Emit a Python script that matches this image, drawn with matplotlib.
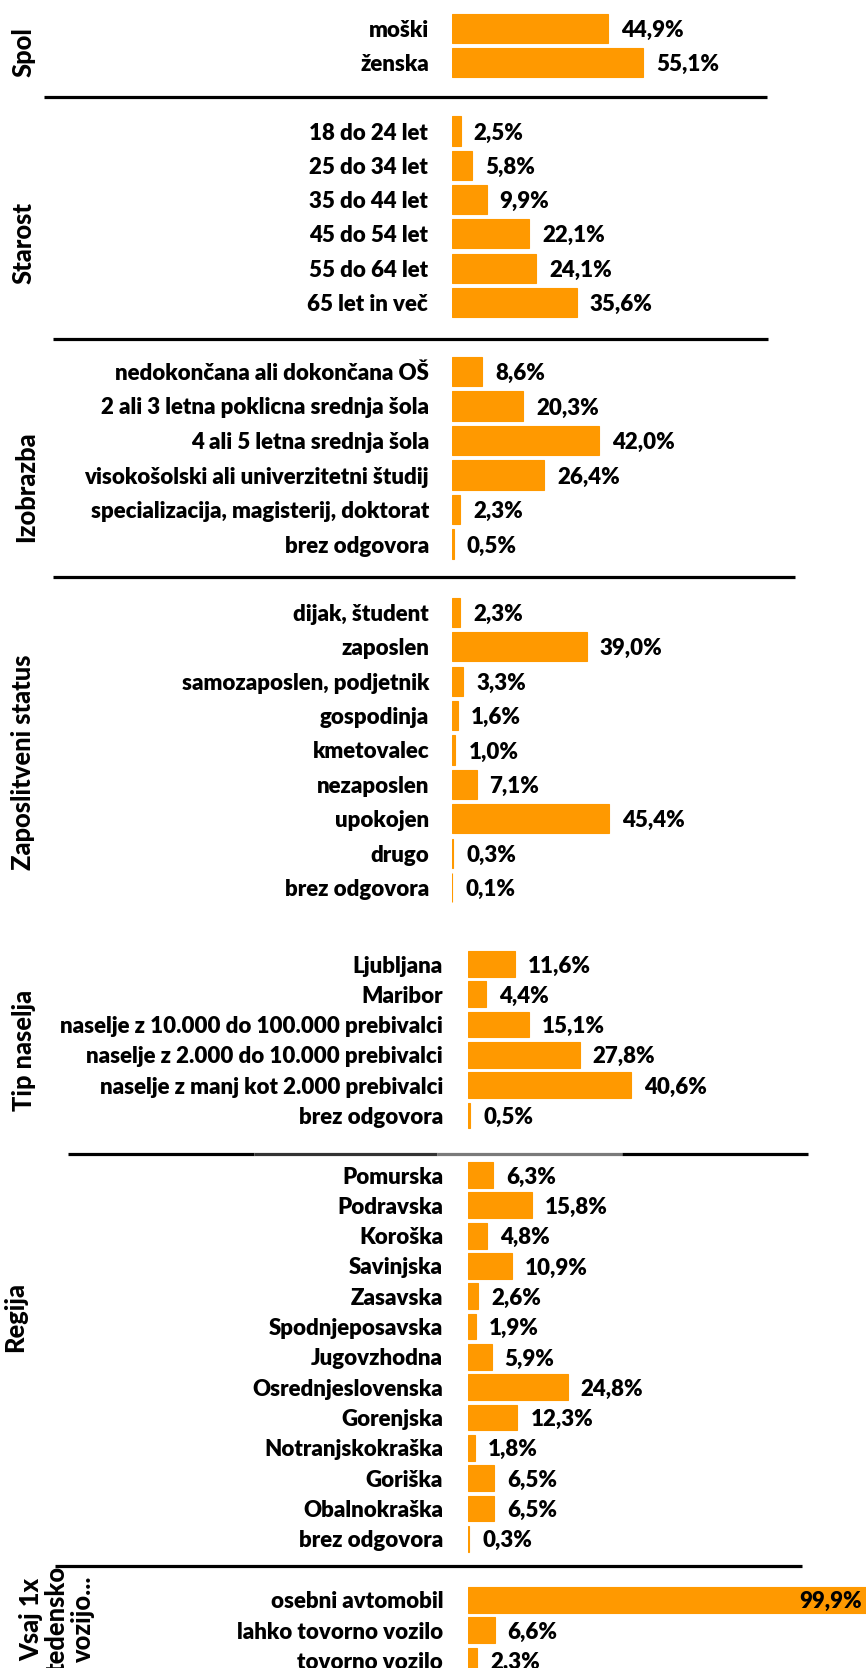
import matplotlib.pyplot as plt
from matplotlib.lines import Line2D

W, H = 866, 1668
plt.rcParams['font.family'] = ['Lato', 'DejaVu Sans']
plt.rcParams['font.weight'] = 'heavy'

# podatki
spol_labels = ["moški", "ženska"]
spol_values = [44.9, 55.1]

starost_labels = ["18 do 24 let", "25 do 34 let", "35 do 44 let", "45 do 54 let",
                  "55 do 64 let", "65 let in več"]
starost_values = [2.5, 5.8, 9.9, 22.1, 24.1, 35.6]

izobrazba_labels = ["nedokončana ali dokončana OŠ", "2 ali 3 letna poklicna srednja šola",
                    "4 ali 5 letna srednja šola", "visokošolski ali univerzitetni študij",
                    "specializacija, magisterij, doktorat", "brez odgovora"]
izobrazba_values = [8.6, 20.3, 42.0, 26.4, 2.3, 0.5]

status_labels = ["dijak, študent", "zaposlen", "samozaposlen, podjetnik", "gospodinja",
                 "kmetovalec", "nezaposlen", "upokojen", "drugo", "brez odgovora"]
status_values = [2.3, 39.0, 3.3, 1.6, 1.0, 7.1, 45.4, 0.3, 0.1]

naselje_labels = ["Ljubljana", "Maribor", "naselje z 10.000 do 100.000 prebivalci",
                  "naselje z 2.000 do 10.000 prebivalci", "naselje z manj kot 2.000 prebivalci",
                  "brez odgovora"]
naselje_values = [11.6, 4.4, 15.1, 27.8, 40.6, 0.5]

regija_labels = ["Pomurska", "Podravska", "Koroška", "Savinjska", "Zasavska", "Spodnjeposavska",
                 "Jugovzhodna", "Osrednjeslovenska", "Gorenjska", "Notranjskokraška", "Goriška",
                 "Obalnokraška", "brez odgovora"]
regija_values = [6.3, 15.8, 4.8, 10.9, 2.6, 1.9, 5.9, 24.8, 12.3, 1.8, 6.5, 6.5, 0.3]

vozilo_labels = ["osebni avtomobil", "lahko tovorno vozilo", "tovorno vozilo"]
vozilo_values = [99.9, 6.6, 2.3]

ORANGE = '#FF9900'
FS = 16
FS_TITLE = 18.4
WEIGHT = 'heavy'

fig = plt.figure(figsize=(W / 100, H / 100), dpi=100)


def px_box(left, top, width, height):
    return [left / W, 1 - (top + height) / H, width / W, height / H]


def group(labels, values, x0, px_per_pct, y_first, step, pad_px, inside_first=False):
    n = len(labels)
    width = W - x0
    ax = fig.add_axes(px_box(x0, y_first - step / 2, width, step * n))
    ax.patch.set_alpha(0)
    pos = list(range(n))
    # rob, da so tudi zelo majhni stolpci vidni
    ax.barh(pos, values, height=0.85, color=ORANGE, edgecolor=ORANGE, linewidth=0.8)
    ax.set_xlim(0, width / px_per_pct)
    ax.set_ylim(n - 0.5, -0.5)
    ax.set_yticks(pos)
    ax.set_yticklabels(labels, fontsize=FS, fontweight=WEIGHT)
    ax.tick_params(axis='y', length=0, pad=pad_px * 0.72)
    ax.set_xticks([])
    for s in ax.spines.values():
        s.set_visible(False)
    for i, v in enumerate(values):
        txt = f'{v:.1f}%'.replace('.', ',')
        if inside_first and i == 0:
            ax.annotate(txt, (1, i), xycoords=('axes fraction', 'data'), xytext=(-4, 0),
                        textcoords='offset pixels', ha='right', va='center_baseline',
                        fontsize=FS, fontweight=WEIGHT)
        else:
            ax.annotate(txt, (v, i), xytext=(13, 0), textcoords='offset pixels',
                        ha='left', va='center_baseline', fontsize=FS, fontweight=WEIGHT)
    return ax


group(spol_labels, spol_values, 452, 3.47, 28.5, 34, 23)
group(starost_labels, starost_values, 452, 3.5, 131, 34.3, 24)
group(izobrazba_labels, izobrazba_values, 452, 3.5, 371.5, 34.5, 23)
group(status_labels, status_values, 452, 3.46, 612.5, 34.375, 23)
group(naselje_labels, naselje_values, 468, 4.02, 964, 30.3, 25)
group(regija_labels, regija_values, 468, 4.02, 1175, 30.32, 25)
group(vozilo_labels, vozilo_values, 468, 4.02, 1599.7, 30.6, 25, inside_first=True)


def hline(y, x1, x2, color='black'):
    fig.add_artist(Line2D([x1 / W, x2 / W], [1 - y / H, 1 - y / H], transform=fig.transFigure,
                          color=color, lw=2.3, solid_capstyle='butt'))


hline(97.3, 44, 767)
hline(339.3, 53, 768)
hline(576.7, 53, 794.5)
# crta med tipom naselja in regijo ima sive dele
hline(1154, 68, 254)
hline(1154, 254, 437, '#333333')
hline(1154, 437, 622, '#7a7a7a')
hline(1154, 622, 808)
hline(1566, 55, 802)

titles = [("Spol", 23.5, 52.5), ("Starost", 23.5, 243), ("Izobrazba", 26, 487),
          ("Zaposlitveni status", 23.5, 762.5), ("Tip naselja", 24.5, 1050.7),
          ("Regija", 15, 1316.5)]
for t, x, y in titles:
    fig.text(x / W, 1 - y / H, t, rotation=90, ha='center', va='center',
             fontsize=FS_TITLE, fontweight='black')

fig.text(57 / W, 1 - 1619 / H, "Vsaj 1x\ntedensko\nvozijo...", rotation=90, ha='center',
         va='center', multialignment='center', linespacing=1.1,
         fontsize=FS_TITLE, fontweight='black')

fig.savefig('out.png', dpi=100)
